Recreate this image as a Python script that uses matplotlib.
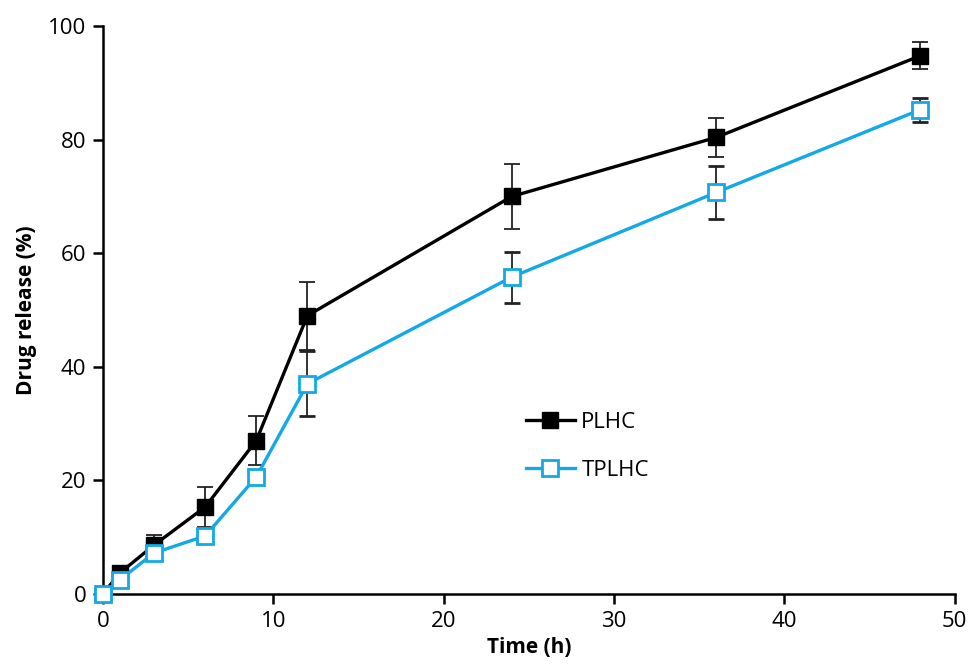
import matplotlib
matplotlib.use("Agg")
import matplotlib.pyplot as plt
from matplotlib.lines import Line2D

time_h = [0, 1, 3, 6, 9, 12, 24, 36, 48]
plhc = [0, 3.7, 8.6, 15.3, 27.0, 49.0, 70.0, 80.4, 94.8]
plhc_err = [0, 0.6, 1.7, 3.5, 4.3, 6.0, 5.8, 3.4, 2.4]
tplhc = [0, 2.5, 7.2, 10.2, 20.6, 37.0, 55.8, 70.7, 85.3]
tplhc_err = [0, 0.4, 0.6, 0.8, 1.2, 5.7, 4.5, 4.6, 2.1]
xticks = [0, 10, 20, 30, 40, 50]
yticks = [0, 20, 40, 60, 80, 100]

plt.rcParams['font.family'] = ['Open Sans', 'DejaVu Sans']

fig = plt.figure(figsize=(9.72, 6.71), dpi=100)
ax = fig.add_axes([0.106, 0.115, 0.876, 0.846])

blue = '#12A9E6'
ax.errorbar(time_h, plhc, yerr=plhc_err, color='black', lw=2.4, marker='s',
            ms=11, mfc='black', mec='black', ecolor='#222222', elinewidth=1.3,
            capsize=6, capthick=1.3, clip_on=False, zorder=3)
ax.errorbar(time_h, tplhc, yerr=tplhc_err, color=blue, lw=2.4, marker='s',
            ms=11, mfc='white', mec=blue, mew=2, ecolor='#222222', elinewidth=1.3,
            capsize=6, capthick=1.3, clip_on=False, zorder=4)

ax.set_xlim(0, 50)
ax.set_ylim(0, 100)
ax.set_xticks(xticks)
ax.set_yticks(yticks)
for s in ['top', 'right']:
    ax.spines[s].set_visible(False)
for s in ['left', 'bottom']:
    ax.spines[s].set_linewidth(1.8)
ax.tick_params(axis='both', direction='out', length=7, width=1.8, labelsize=16, pad=5)
ax.set_xlabel('Time (h)', fontsize=15, fontweight='bold', labelpad=4)
ax.set_ylabel('Drug release (%)', fontsize=15, fontweight='bold', labelpad=8)

handles = [
    Line2D([], [], color='black', lw=2.4, marker='s', ms=11, mfc='black', mec='black'),
    Line2D([], [], color=blue, lw=2.4, marker='s', ms=11, mfc='white', mec=blue, mew=2),
]
ax.legend(handles, ['PLHC', 'TPLHC'], loc='center left', bbox_to_anchor=(0.473, 0.26),
          frameon=False, fontsize=16, handlelength=2.2, labelspacing=1.2, handletextpad=0.3)

fig.savefig('out.png', dpi=100)
